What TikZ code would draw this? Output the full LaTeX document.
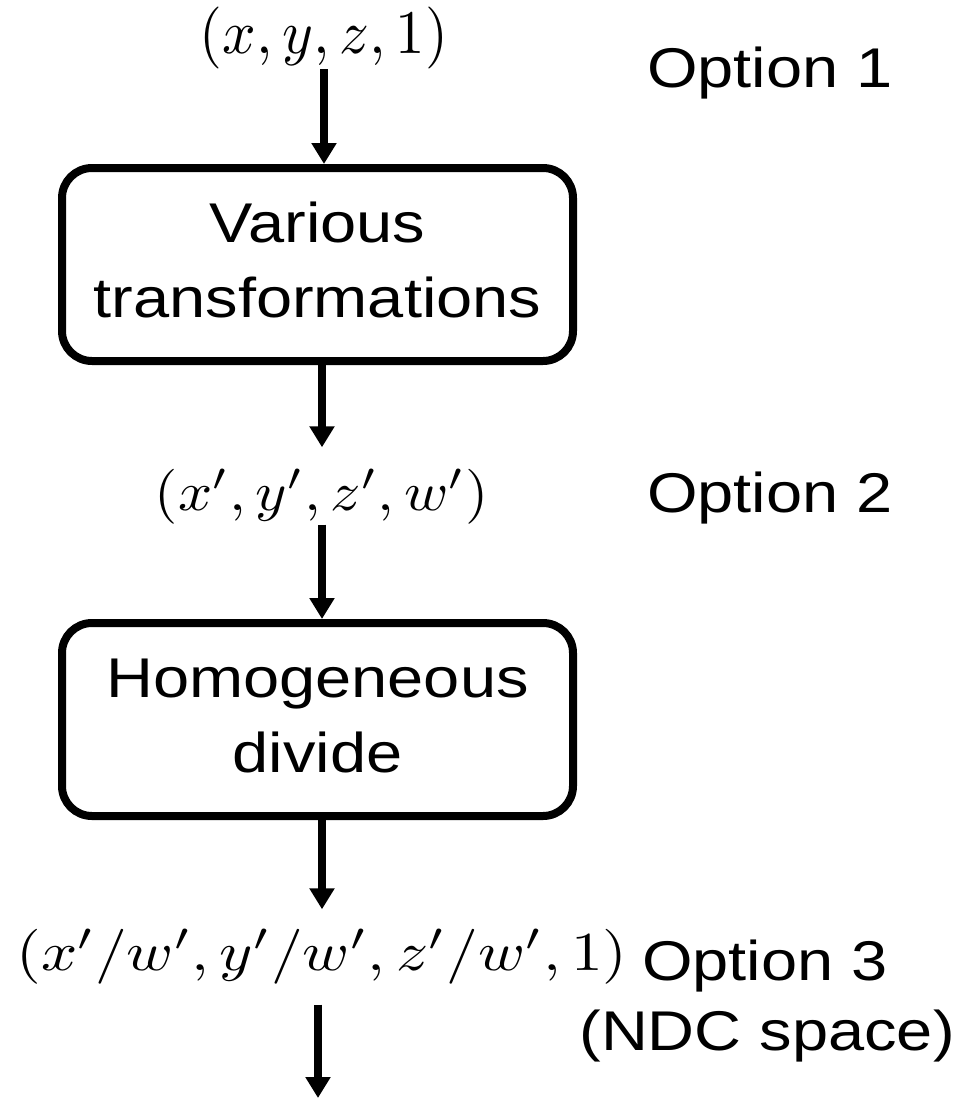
\documentclass[tikz,border=0pt]{standalone}
\usepackage[no-math]{fontspec}
\setmainfont{Liberation Sans}
\usepackage{graphicx}
\usetikzlibrary{arrows.meta}
\newcommand{\sx}[1]{\scalebox{1.16}[1]{#1}}
\begin{document}
\begin{tikzpicture}[x=1pt,y=-1pt,
  every node/.style={inner sep=0pt},
  txt/.style={font=\fontsize{56}{72}\selectfont},
  stage/.style={draw, line width=8pt, rounded corners=30pt, minimum width=511pt, minimum height=193pt, font=\fontsize{56}{75}\selectfont},
  arr/.style={line width=8pt, -{Triangle[width=24pt,length=21pt]}}]
\useasboundingbox (0,0) rectangle (958,1098);
% formulas
\node (f1) at (324,38) {\resizebox*{248pt}{62pt}{$(x,y,z,1)$}};
\node (f2) at (322,497) {\resizebox*{334pt}{55pt}{$(x',y',z',w')$}};
\node (f3) at (322,957) {\resizebox*{611pt}{55pt}{$(x'/w',y'/w',z'/w',1)$}};
% boxes
\node[stage] (b1) at (317.5,264.5) {\sx{\begin{tabular}{@{}c@{}}Various\\transformations\end{tabular}}};
\node[stage] (b2) at (317.5,719.5) {\sx{\begin{tabular}{@{}c@{}}Homogeneous\\divide\end{tabular}}};
% option labels
\node[txt, anchor=base] (o1) at (770,87) {\sx{Option 1}};
\node[txt, anchor=base] (o2) at (770,512) {\sx{Option 2}};
\node[txt, anchor=base] (o3) at (765,980) {\sx{Option 3}};
\node[txt, anchor=base east] (o3b) at (955,1050) {\sx{(NDC space)}};
% arrows
\coordinate (end) at (318,1098);
\draw[arr] (f1.south) -- (f1.south |- b1.north);
\draw[arr] (b1.south -| f2.north) -- ([yshift=22pt]f2.north);
\draw[arr] (f2.south) -- (f2.south |- b2.north);
\draw[arr] (b2.south -| f3.north) -- ([yshift=20pt]f3.north);
\draw[arr] ([yshift=-20pt]f3.south -| end) -- (end);
\end{tikzpicture}
\end{document}
